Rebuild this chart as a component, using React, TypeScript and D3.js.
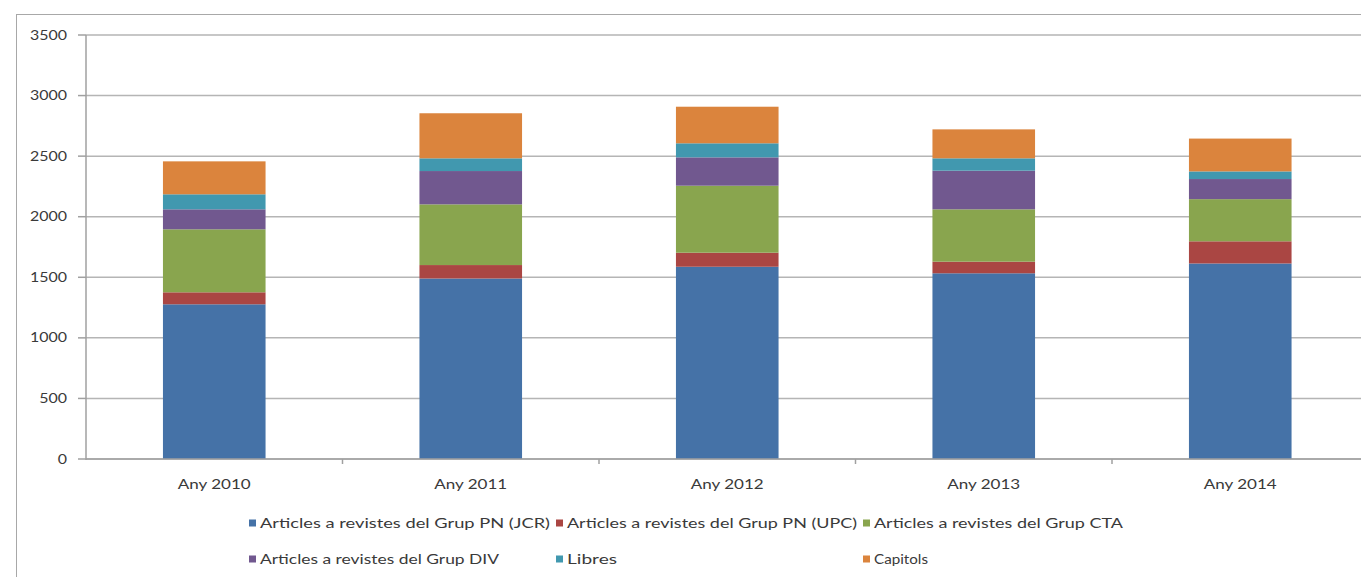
import React from "react";
import * as d3 from "d3";

const years = ["Any 2010", "Any 2011", "Any 2012", "Any 2013", "Any 2014"];
const seriesNames = [
  "Articles a revistes del Grup PN (JCR)",
  "Articles a revistes del Grup PN (UPC)",
  "Articles a revistes del Grup CTA",
  "Articles a revistes del Grup DIV",
  "Libres",
  "Capitols",
];
const jcr = [1277, 1490, 1587, 1533, 1614];
const upc = [99, 111, 116, 96, 183];
const cta = [520, 501, 553, 432, 348];
const div = [165, 275, 234, 319, 166];
const libres = [124, 105, 116, 102, 63];
const capitols = [272, 372, 302, 239, 271];
const yTicks = [0, 500, 1000, 1500, 2000, 2500, 3000, 3500];

const colors = ["#4572A7", "#AA4643", "#89A54E", "#71588F", "#4198AF", "#DB843D"];

const W = 1361;
const H = 577;
const FONT = "Lato, 'Open Sans', sans-serif";
const TXT = "#3a3a3a";

export default function App() {
  const values = [jcr, upc, cta, div, libres, capitols];
  const rows = years.map((y, i) => {
    const r: any = { year: y };
    seriesNames.forEach((s, j) => (r[s] = values[j][i]));
    return r;
  });
  const stack = d3.stack<any>().keys(seriesNames)(rows);

  const x = d3
    .scaleBand<string>()
    .domain(years)
    .range([86, 86 + 5 * 256.5])
    .paddingInner(0.6)
    .paddingOuter(0.3);
  const y = d3.scaleLinear().domain([0, 3500]).range([459, 35]);
  const step = x.step();
  const x0 = 86;

  const legendCols = [249, 556, 863];
  const legendRows = [523, 559];
  const legendWidths = [290, 290, 249, 239, 50, 54];

  return (
    <svg
      width={W}
      height={H}
      style={{ position: "absolute", left: 0, top: 0, background: "#fff" }}
      fontFamily={FONT}
    >
      <rect x={0} y={0} width={W} height={H} fill="#fff" />
      <rect x={16.5} y={14.5} width={W} height={H} fill="none" stroke="#a8a8a8" strokeWidth={1} />

      {/* gridlines */}
      {yTicks.map((t) => (
        <line key={"g" + t} x1={x0} x2={W} y1={y(t)} y2={y(t)} stroke="#b5b5b5" strokeWidth={1.5} />
      ))}

      {/* y axis */}
      <line x1={x0} x2={x0} y1={y(3500)} y2={y(0) + 1} stroke="#a0a0a0" strokeWidth={1.5} />
      {yTicks.map((t) => {
        const s = String(t);
        const len = s.length * 9.25;
        return (
          <g key={"yt" + t}>
            <line x1={x0 - 8} x2={x0} y1={y(t)} y2={y(t)} stroke="#a0a0a0" strokeWidth={1.5} />
            <text
              x={67 - len}
              y={y(t) + 4.5}
              fontSize={12.5}
              fill={TXT}
              textLength={len}
              lengthAdjust="spacingAndGlyphs"
            >
              {s}
            </text>
          </g>
        );
      })}

      {/* bars */}
      {stack.map((layer, j) => (
        <g key={"s" + j} fill={colors[j]}>
          {layer.map((d, i) => (
            <rect
              key={i}
              x={x(years[i])}
              width={x.bandwidth()}
              y={y(d[1])}
              height={y(d[0]) - y(d[1])}
            />
          ))}
        </g>
      ))}

      {/* x axis */}
      <line x1={x0} x2={W} y1={y(0)} y2={y(0)} stroke="#a0a0a0" strokeWidth={1.5} />
      {years.map((yr, i) => (
        <line
          key={"xt" + i}
          x1={x0 + (i + 1) * step}
          x2={x0 + (i + 1) * step}
          y1={y(0)}
          y2={y(0) + 5}
          stroke="#a0a0a0"
          strokeWidth={1.5}
        />
      ))}
      {years.map((yr) => (
        <text
          key={"xl" + yr}
          x={(x(yr) as number) + x.bandwidth() / 2 - 36.5}
          y={489}
          fontSize={12.5}
          fill={TXT}
          textLength={73}
          lengthAdjust="spacingAndGlyphs"
        >
          {yr}
        </text>
      ))}

      {/* legend */}
      {seriesNames.map((s, j) => {
        const cx = legendCols[j % 3];
        const cy = legendRows[Math.floor(j / 3)];
        return (
          <g key={"lg" + j}>
            <rect x={cx} y={cy - 3.5} width={7} height={7} fill={colors[j]} />
            <text
              x={cx + 11}
              y={cy + 4.5}
              fontSize={12.5}
              fill={TXT}
              textLength={legendWidths[j]}
              lengthAdjust="spacingAndGlyphs"
            >
              {s}
            </text>
          </g>
        );
      })}
    </svg>
  );
}
